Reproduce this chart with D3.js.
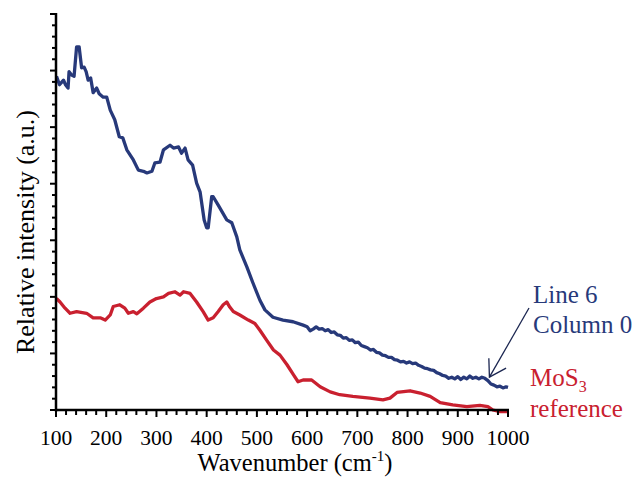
<!DOCTYPE html>
<html><head><meta charset="utf-8">
<script src="https://cdn.jsdelivr.net/npm/d3@7"></script>
<style>body{margin:0;background:#fff}svg{display:block}text{font-family:"Liberation Serif","DejaVu Serif",serif}</style>
</head><body>
<script>
// Line 6 Column 0 spectrum (wavenumber, relative intensity)
const blueWave = [101,107,115,119,124,126,131,136,141,146,151,156,160,164,169,174,181,186,194,201,208,217,226,233,241,254,264,274,281,291,297,307,314,327,334,344,350,357,363,372,380,387,395,400,403,410,413,423,440,450,460,466,480,492,506,516,532,552,572,592,600,606,612,618,624,630,636,642,648,654,660,666,672,678,684,690,696,702,708,714,720,726,732,738,744,750,756,762,768,774,780,786,792,798,804,810,816,822,828,834,840,846,852,858,864,870,876,882,888,894,900,906,912,918,924,930,936,942,948,954,960,966,972,978,984,990,996,1000];
const blueInt  = [5.90,5.75,5.83,5.75,5.69,5.98,5.92,5.90,6.42,6.42,6.05,6.06,5.98,5.83,5.87,5.61,5.69,5.59,5.53,5.53,5.30,5.13,4.83,4.81,4.60,4.42,4.24,4.22,4.19,4.22,4.37,4.38,4.60,4.68,4.63,4.65,4.54,4.63,4.42,4.33,4.01,3.85,3.36,3.22,3.22,3.77,3.77,3.62,3.36,3.31,3.06,2.83,2.53,2.25,1.94,1.77,1.64,1.59,1.56,1.50,1.47,1.40,1.43,1.47,1.43,1.44,1.40,1.42,1.37,1.38,1.33,1.32,1.27,1.28,1.23,1.24,1.19,1.20,1.14,1.12,1.10,1.06,1.07,1.02,1.01,0.97,0.96,0.93,0.93,0.89,0.88,0.85,0.86,0.83,0.85,0.82,0.83,0.79,0.77,0.74,0.73,0.71,0.70,0.66,0.64,0.61,0.60,0.56,0.58,0.55,0.59,0.54,0.58,0.55,0.60,0.56,0.58,0.55,0.58,0.56,0.52,0.46,0.44,0.41,0.42,0.39,0.41,0.40];
// MoS3 reference spectrum
const redWave = [101,108,118,128,141,161,174,188,198,208,214,227,237,244,254,261,274,287,300,314,324,337,347,354,367,380,393,403,413,423,433,440,446,453,466,483,496,506,519,533,546,560,573,582,592,609,626,646,665,691,725,751,765,779,805,825,845,865,890,918,944,960,970,984,998];
const redInt  = [1.97,1.91,1.80,1.71,1.74,1.71,1.63,1.63,1.59,1.68,1.83,1.86,1.80,1.71,1.74,1.70,1.80,1.91,1.97,2.00,2.06,2.09,2.03,2.09,2.06,1.91,1.74,1.59,1.63,1.74,1.86,1.91,1.82,1.74,1.68,1.59,1.53,1.41,1.24,1.06,0.97,0.80,0.62,0.50,0.53,0.53,0.41,0.32,0.27,0.24,0.21,0.18,0.21,0.31,0.34,0.30,0.24,0.13,0.09,0.06,0.08,0.06,0.00,-0.03,-0.03];
const xTicks = [100,200,300,400,500,600,700,800,900,1000];
const seriesNames = [["Line 6","Column 0"],["MoS","reference"]];

const W = 642, H = 477;
const svg = d3.select("body").append("svg").attr("width", W).attr("height", H);
const x = d3.scaleLinear().domain([100,1000]).range([56,508]);
const y = d3.scaleLinear().domain([0,7]).range([410,14]);
const blue = "#27397a", red = "#c9202f";

const line = d3.line().x(d=>x(d[0])).y(d=>y(d[1]));
svg.append("path").datum(blueWave.map((w,i)=>[w,blueInt[i]]))
  .attr("d", line).attr("fill","none").attr("stroke",blue).attr("stroke-width",3.3).attr("stroke-linejoin","round");
svg.append("path").datum(redWave.map((w,i)=>[w,redInt[i]]))
  .attr("d", line).attr("fill","none").attr("stroke",red).attr("stroke-width",3.3).attr("stroke-linejoin","round");

// axes
const xMinor = d3.range(100,1001,20);
const yMinor = d3.range(0,7.001,0.2);
const ax = svg.append("g");
ax.selectAll(".xm").data(xMinor).join("line")
  .attr("x1",d=>x(d)).attr("x2",d=>x(d)).attr("y1",y(0)).attr("y2",d=>y(0)+ (d%100===0?7:5))
  .attr("stroke","#000").attr("stroke-width",2);
ax.selectAll(".ym").data(yMinor).join("line")
  .attr("y1",d=>y(d)).attr("y2",d=>y(d)).attr("x1",x(100)).attr("x2",d=>x(100)-(Math.abs(d-Math.round(d))<1e-6?6:4))
  .attr("stroke","#000").attr("stroke-width",2);
ax.append("line").attr("x1",x(100)).attr("x2",x(100)).attr("y1",y(7)-1).attr("y2",y(0)+1.5).attr("stroke","#000").attr("stroke-width",2.5);
ax.append("line").attr("x1",x(100)-1).attr("x2",x(1000)+1).attr("y1",y(0)).attr("y2",y(0)).attr("stroke","#000").attr("stroke-width",2.5);

svg.selectAll(".xl").data(xTicks).join("text")
  .attr("x",d=>x(d)).attr("y",445).attr("text-anchor","middle")
  .attr("font-size",21.5).attr("fill","#000").text(d=>d);

const xt = svg.append("text").attr("x",295).attr("y",471).attr("text-anchor","middle")
  .attr("font-size",24.5).attr("fill","#000");
xt.append("tspan").text("Wavenumber (cm");
xt.append("tspan").attr("font-size",15).attr("dy",-10).text("-1");
xt.append("tspan").attr("dy",10).text(")");

svg.append("text").attr("transform","translate(34,232) rotate(-90)").attr("text-anchor","middle")
  .attr("font-size",26).attr("fill","#000").text("Relative intensity (a.u.)");

// annotations
svg.append("text").attr("x",533).attr("y",303).attr("font-size",25).attr("fill",blue).text(seriesNames[0][0]);
svg.append("text").attr("x",533).attr("y",333).attr("font-size",25).attr("fill",blue).text(seriesNames[0][1]);
const mo = svg.append("text").attr("x",530).attr("y",386).attr("font-size",25).attr("fill",red);
mo.append("tspan").text(seriesNames[1][0]);
mo.append("tspan").attr("font-size",16).attr("dy",6).text("3");
svg.append("text").attr("x",530).attr("y",417).attr("font-size",25).attr("fill",red).text(seriesNames[1][1]);

// arrow
const tip = [x(963), y(0.58)];
const tail = [529, 308];
const ang = Math.atan2(tail[1]-tip[1], tail[0]-tip[0]);
const hl = 19, ha = 0.55;
const ar = svg.append("g").attr("stroke","#1a2550").attr("stroke-width",1.3).attr("fill","none");
ar.append("line").attr("x1",tail[0]).attr("y1",tail[1]).attr("x2",tip[0]).attr("y2",tip[1]);
ar.append("path").attr("d",`M${tip[0]+hl*Math.cos(ang+ha)},${tip[1]+hl*Math.sin(ang+ha)}L${tip[0]},${tip[1]}L${tip[0]+hl*Math.cos(ang-ha)},${tip[1]+hl*Math.sin(ang-ha)}`);
</script>
</body></html>
